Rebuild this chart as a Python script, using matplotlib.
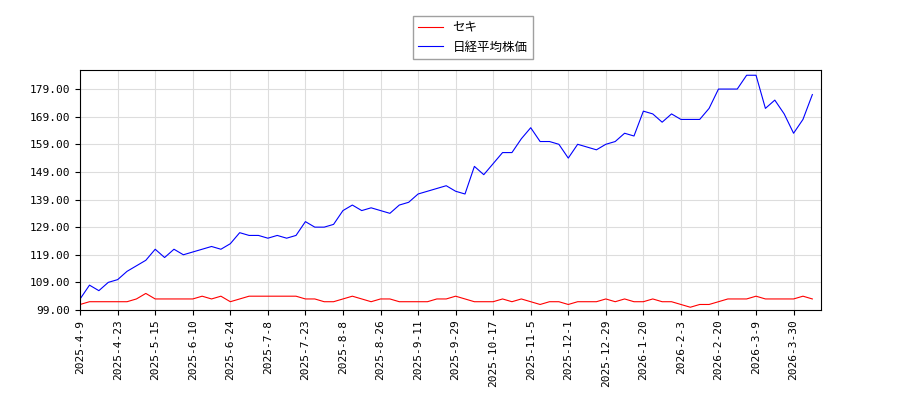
import matplotlib
matplotlib.use("Agg")
import matplotlib.pyplot as plt

plt.rcParams['font.family'] = ['Noto Sans CJK JP', 'DejaVu Sans']

tick_labels = ["2025-4-9","2025-4-23","2025-5-15","2025-6-10","2025-6-24","2025-7-8",
               "2025-7-23","2025-8-8","2025-8-26","2025-9-11","2025-9-29","2025-10-17",
               "2025-11-5","2025-12-1","2025-12-29","2026-1-20","2026-2-3","2026-2-20",
               "2026-3-9","2026-3-30"]

nikkei = [103,108,106,109, 110,113,115,117, 121,118,121,119, 120,121,122,121,
          123,127,126,126, 125,126,125,126, 131,129,129,130, 135,137,135,136,
          135,134,137,138, 141,142,143,144, 142,141,151,148, 152,156,156,161,
          165,160,160,159, 154,159,158,157, 159,160,163,162, 171,170,167,170,
          168,168,168,172, 179,179,179,184, 184,172,175,170, 163,168,177]

seki = [101,102,102,102, 102,102,103,105, 103,103,103,103, 103,104,103,104,
        102,103,104,104, 104,104,104,104, 103,103,102,102, 103,104,103,102,
        103,103,102,102, 102,102,103,103, 104,103,102,102, 102,103,102,103,
        102,101,102,102, 101,102,102,102, 103,102,103,102, 102,103,102,102,
        101,100,101,101, 102,103,103,103, 104,103,103,103, 103,104,103]

fig = plt.figure(figsize=(9, 4), dpi=100)
ax = fig.add_axes([0.089, 0.225, 0.823, 0.6])
x = list(range(len(nikkei)))
ax.plot(x, seki, color='red', lw=0.8, label='セキ')
ax.plot(x, nikkei, color='blue', lw=0.8, label='日経平均株価')
ax.set_xlim(0, 78.9)
ax.set_ylim(99, 185.9)
yt = [99 + 10 * i for i in range(9)]
ax.set_yticks(yt)
ax.set_yticklabels([f"{v:.2f}" for v in yt], fontsize=8, family='DejaVu Sans Mono')
ax.set_xticks([4 * i for i in range(len(tick_labels))])
ax.set_xticklabels(tick_labels, rotation=90, fontsize=8, family='DejaVu Sans Mono')
ax.grid(True, color='#dddddd', lw=0.8)
fig.legend(loc='upper center', bbox_to_anchor=(0.525, 0.975), fontsize=9, fancybox=False, edgecolor='#888888')
fig.savefig('out.png')
